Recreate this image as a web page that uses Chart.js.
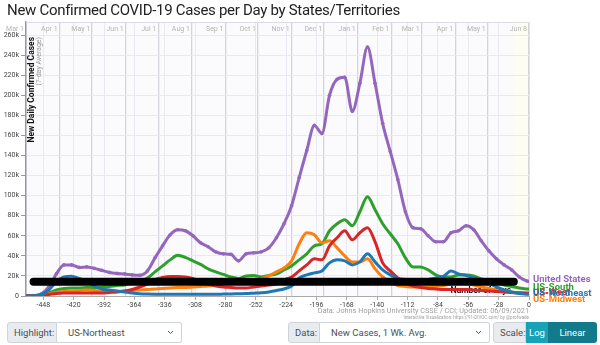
<!DOCTYPE html>
<html>
<head>
<meta charset="utf-8">
<script src="https://cdn.jsdelivr.net/npm/chart.js@4.4.1/dist/chart.umd.min.js"></script>
<style>
    body { margin: 0; width: 600px; height: 345px; overflow: hidden; background: #fff;
           font-family: Roboto, "Liberation Sans", sans-serif; position: relative; }
    #title { position: absolute; left: 7px; top: 1px; font-size: 15px; letter-spacing: -0.3px; color: #222; white-space: nowrap; }
    #c { position: absolute; left: 0; top: 0; }
    .grp { position: absolute; top: 322px; height: 21px; display: flex; font-size: 9.5px; color: #495057; }
    .lab { background: #e9ecef; border: 1px solid #ced4da; border-radius: 3px 0 0 3px; display: flex;
           align-items: center; padding: 0 6px; box-sizing: border-box; }
    .sel { background: #fff; border: 1px solid #ced4da; border-left: none; border-radius: 0 3px 3px 0; display: flex;
           align-items: center; justify-content: space-between; padding: 0 7px 0 11px; box-sizing: border-box; }
    .btn { color: #fff; display: flex; align-items: center; justify-content: center; box-sizing: border-box; }
</style>
</head>
<body>
<canvas id="c" width="600" height="322"></canvas>
<div id="title">New Confirmed COVID-19 Cases per Day by States/Territories</div>

<div class="grp" style="left:7px">
    <div class="lab" style="width:50px">Highlight:</div>
    <div class="sel" style="width:125px">US-Northeast
        <svg width="7" height="5"><polyline points="1,1 3.5,3.5 6,1" fill="none" stroke="#555" stroke-width="1"/></svg></div>
</div>
<div class="grp" style="left:288px">
    <div class="lab" style="width:32px">Data:</div>
    <div class="sel" style="width:170px">New Cases, 1 Wk. Avg.
        <svg width="7" height="5"><polyline points="1,1 3.5,3.5 6,1" fill="none" stroke="#555" stroke-width="1"/></svg></div>
</div>
<div class="grp" style="left:493px">
    <div class="lab" style="width:33px">Scale:</div>
    <div class="btn" style="width:22px;background:#17a2b8">Log</div>
    <div class="btn" style="width:49px;background:#117a8b;border-radius:0 3px 3px 0">Linear</div>
</div>

<script>
// days before Jun 8, 2021 (0 = last day)
const days = [-464,-457,-450,-443,-436,-429,-422,-415,-408,-401,-394,-387,-380,-373,-366,-359,-352,-345,
    -338,-331,-324,-317,-310,-303,-296,-289,-282,-275,-268,-261,-254,-247,-240,-233,-226,-219,-212,-205,
    -198,-191,-184,-177,-170,-163,-156,-149,-142,-135,-128,-121,-114,-107,-100,-93,-86,-79,-72,-65,-58,
    -51,-44,-37,-30,-23,-16,-9,-2,0];

// new cases per day, 7-day avg, in thousands
const usVals = [0.1,0.4,2,9,22,31,31,28.5,29,27.5,25.5,23.5,22.5,22,21,20.7,25,38,50,61,66,65,60,53,49,44,
    42,41.5,35,42,43,44,48,58,72,90,118,145,170,162,200,216,218,184,212,248,212,172,144,116,84,68,67,60,
    54,54,63,65,70,66,55,45,37,31,26,19,15,14.5];
const southVals = [0,0.2,0.8,3,6,7.5,8,8,8.5,8.5,9,9.5,10.5,11,13,15,18,24,30,36,40.5,38.5,35,31.5,27,24,
    21.5,19,17.5,20,20.5,19,20.5,22,26,30,36,42,50,52,65,72,76,70,84,99,86,72,62,52,38,29,29,26,21,19,19,
    21,21,20,17,15,13,11,9.5,8,7,7];
const midwestVals = [0,0.2,0.8,2,3.5,4.5,5,5.5,6,5.5,5,4.5,4.5,5,5.5,6,6.5,7,7.5,8,8.5,8.5,9,9.5,10,11,12,
    12.5,13,14,15,17,20,24,28,35,52,63,61,53,55,48,40,34,34,37,27,19,14,10.5,9.5,9,9,9,9.5,10.5,12,13,12.5,
    11,9,7.5,6,5,4,3,2.5,2.5];
const westVals = [0.1,0.3,0.8,1.5,2.5,3,3,3,3,3,3,3.5,4,5,6.5,9,12,16.5,18.5,19.5,19.5,19,17.5,14.5,12,10,9,
    8.5,8,8,9,10,11,12,16,19,25,31,37,36,50,58,65,56,63,68,54,33,25,18,13,10,8.5,7.5,7,6.5,6.5,6.5,6.5,6,
    5.5,5,4.5,4,3.5,3.2,3,3];
const northeastVals = [0,0.2,1.5,6,14,19,19.8,17.5,15,10,7,6,5,4,3,2.3,2,1.8,1.7,1.7,1.7,1.8,1.8,1.8,1.8,
    1.8,1.9,2,2.2,2.4,2.8,3.2,4,5.5,7,10,18,21,23,25,33,36,35,31,34,42,34,26,21,17.5,16.5,16,16,16.5,18,
    19.5,25,22,20.5,18,16,13,9,6,4,2.5,1.8,1.7];

// the black bar across the plot
const barDays = [-457, -14];
const barVals = [14.3, 14.3];

const yTickVals = [0,20000,40000,60000,80000,100000,120000,140000,160000,180000,200000,220000,240000,260000];
const xTickDays = [-448,-420,-392,-364,-336,-308,-280,-252,-224,-196,-168,-140,-112,-84,-56,-28,0];
const monthDays = [-464,-433,-403,-372,-342,-311,-280,-250,-219,-189,-158,-127,-99,-68,-38,0];
const monthNames = ["Mar 1","Apr 1","May 1","Jun 1","Jul 1","Aug 1","Sep 1","Oct 1","Nov 1","Dec 1",
    "Jan 1","Feb 1","Mar 1","Apr 1","May 1","Jun 8"];

const FONT = "Roboto, 'Liberation Sans', sans-serif";

const series = [
    { name: "US-Northeast", vals: northeastVals, color: "#1f77b4", nudge: -1 },
    { name: "US-West", vals: westVals, color: "#d62728", nudge: 0 },
    { name: "US-Midwest", vals: midwestVals, color: "#ff7f0e", nudge: 6.5 },
    { name: "US-South", vals: southVals, color: "#2ca02c", nudge: -1 },
    { name: "United States", vals: usVals, color: "#9467bd", nudge: -2, dots: true }
];

const toPoints = (xs, vals) => xs.map((d, i) => ({ x: d, y: vals[i] * 1000 }));

const datasets = [{
    label: "bar",
    data: toPoints(barDays, barVals),
    borderColor: "#000",
    borderWidth: 8,
    borderCapStyle: "round",
    pointRadius: 0
}];
series.forEach(s => {
    datasets.push({
        label: s.name,
        data: toPoints(days, s.vals),
        borderColor: s.color,
        backgroundColor: s.color,
        borderWidth: 3,
        borderJoinStyle: "round",
        cubicInterpolationMode: "monotone",
        pointRadius: s.dots ? 1.8 : 0,
        pointBorderWidth: 0
    });
});

const decor = {
    id: "decor",
    beforeDraw(chart) {
        const { ctx, chartArea: a } = chart;
        const xs = chart.scales.x;
        ctx.save();
        ctx.fillStyle = "#fbfbfe";
        ctx.fillRect(a.left, a.top, a.right - a.left, a.bottom - a.top);
        ctx.fillStyle = "#fdfdf3";
        const x0 = xs.getPixelForValue(-14);
        ctx.fillRect(x0, a.top, a.right - x0, a.bottom - a.top);
        ctx.restore();
    },
    beforeDatasetsDraw(chart) {
        const { ctx, chartArea: a } = chart;
        const xs = chart.scales.x;
        ctx.save();
        // top border
        ctx.strokeStyle = "#dcdce4";
        ctx.lineWidth = 1;
        ctx.beginPath();
        ctx.moveTo(a.left, a.top + 0.5);
        ctx.lineTo(a.right, a.top + 0.5);
        ctx.stroke();
        // month labels
        ctx.font = "7px " + FONT;
        ctx.fillStyle = "#b4b4b4";
        ctx.textAlign = "right";
        ctx.textBaseline = "middle";
        monthDays.forEach((d, i) => {
            ctx.fillText(monthNames[i], xs.getPixelForValue(d) - 2, a.top + 7);
        });
        // y title
        ctx.translate(a.left + 6, a.top + 15);
        ctx.rotate(-Math.PI / 2);
        ctx.textAlign = "right";
        ctx.fillStyle = "#111";
        ctx.font = "bold 8.5px " + FONT;
        ctx.fillText("New Daily Confirmed Cases", 0, 0);
        ctx.fillStyle = "#999";
        ctx.font = "7px " + FONT;
        ctx.fillText("(7-day Average)", 0, 7.5);
        ctx.restore();
        // x title
        ctx.save();
        ctx.font = "bold 8.5px " + FONT;
        ctx.fillStyle = "#111";
        ctx.textAlign = "right";
        ctx.textBaseline = "middle";
        ctx.fillText("Number of days", a.right - 18, a.bottom - 5);
        ctx.restore();
    },
    afterDatasetsDraw(chart) {
        const { ctx, chartArea: a } = chart;
        const ys = chart.scales.y;
        ctx.save();
        ctx.font = "bold 9.5px " + FONT;
        ctx.textAlign = "left";
        ctx.textBaseline = "middle";
        ["US-West", "US-Northeast", "US-Midwest", "US-South", "United States"].forEach(n => {
            const s = series.find(t => t.name === n);
            const v = s.vals[s.vals.length - 1] * 1000;
            ctx.fillStyle = s.color;
            ctx.fillText(s.name, a.right + 4, ys.getPixelForValue(v) + s.nudge);
        });
        // source lines
        ctx.textAlign = "right";
        ctx.fillStyle = "#a0a0a0";
        ctx.font = "7.3px " + FONT;
        ctx.fillText("Data: Johns Hopkins University CSSE / CCI; Updated: 06/09/2021", a.right, 311);
        ctx.font = "4.5px " + FONT;
        ctx.fillText("Interactive Visualization: https://91-DIVOC.com/ by @profwade", a.right, 317.5);
        ctx.restore();
    }
};

new Chart(document.getElementById("c"), {
    type: "line",
    data: { datasets },
    options: {
        responsive: false,
        animation: false,
        devicePixelRatio: 1,
        layout: { padding: { top: 22, right: 71, left: 0, bottom: 0 } },
        plugins: { legend: { display: false }, tooltip: { enabled: false } },
        scales: {
            x: {
                type: "linear", min: -464, max: 0,
                afterBuildTicks: s => { s.ticks = xTickDays.map(v => ({ value: v })); },
                afterFit: s => { s.height = 26; },
                ticks: { font: { size: 7, family: FONT }, color: "#444", maxRotation: 0, padding: 1,
                         callback: v => String(v) },
                grid: { color: "#ebe8f2", tickLength: 4, tickColor: "#aaa" },
                border: { color: "#aaa" }
            },
            x2: {
                type: "linear", position: "top", min: -464, max: 0,
                afterBuildTicks: s => { s.ticks = monthDays.map(v => ({ value: v })); },
                afterFit: s => { s.height = 0; },
                ticks: { display: false },
                grid: { color: "#d6d3dd", lineWidth: 1.3, drawTicks: false },
                border: { display: false }
            },
            y: {
                min: 0, max: 273000,
                afterBuildTicks: s => { s.ticks = yTickVals.map(v => ({ value: v })); },
                afterFit: s => { s.width = 26; },
                ticks: { font: { size: 7, family: FONT }, color: "#444",
                         padding: 2, callback: v => v === 0 ? "0" : (v / 1000) + "k" },
                grid: { color: "#ebe8f2", tickLength: 5, tickColor: "#999" },
                border: { color: "#999", width: 1.5 }
            }
        }
    },
    plugins: [decor]
});
</script>
</body>
</html>
